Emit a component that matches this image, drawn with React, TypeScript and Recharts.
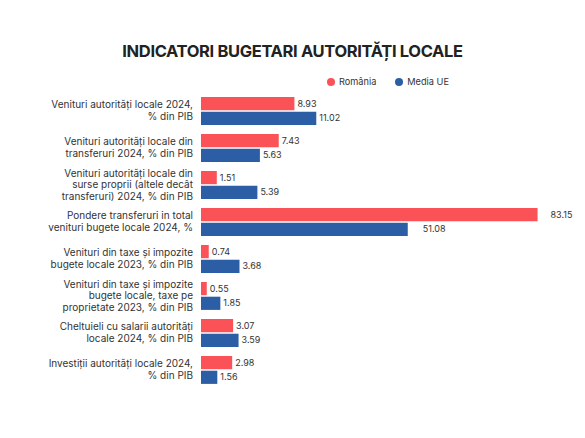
import React from "react";
import {
  BarChart,
  Bar,
  XAxis,
  YAxis,
  Legend,
  LabelList,
} from "recharts";

// Row labels (line breaks as in the original graphic)
const categories = [
  "Venituri autorități locale 2024,\n% din PIB",
  "Venituri autorități locale din\ntransferuri 2024, % din PIB",
  "Venituri autorități locale din\nsurse proprii (altele decât\ntransferuri) 2024, % din PIB",
  "Pondere transferuri in total\nvenituri bugete locale 2024, %",
  "Venituri din taxe și impozite\nbugete locale 2023, % din PIB",
  "Venituri din taxe și impozite\nbugete locale, taxe pe\nproprietate 2023, % din PIB",
  "Cheltuieli cu salarii autorități\nlocale 2024, % din PIB",
  "Investiții autorități locale 2024,\n% din PIB",
];

const romania = [8.93, 7.43, 1.51, 83.15, 0.74, 0.55, 3.07, 2.98];
const mediaUE = [11.02, 5.63, 5.39, 51.08, 3.68, 1.85, 3.59, 1.56];

// "pib" rows share one scale, the "%" share row uses its own
const units = ["pib", "pib", "pib", "pct", "pib", "pib", "pib", "pib"];

const seriesNames = ["România", "Media UE"];
const RED = "#fb5258";
const BLUE = "#2b5ea5";
const FONT = "Inter, 'Noto Sans', sans-serif";

const rows = categories.map((name, i) => ({
  name,
  ro_pib: units[i] === "pib" ? romania[i] : null,
  ue_pib: units[i] === "pib" ? mediaUE[i] : null,
  ro_pct: units[i] === "pct" ? romania[i] : null,
  ue_pct: units[i] === "pct" ? mediaUE[i] : null,
}));

function CategoryTick(props: any) {
  const { x, y, payload } = props;
  const lines = String(payload.value).split("\n");
  const lh = 11.4;
  return (
    <text
      x={x}
      y={y}
      textAnchor="end"
      fontSize={10}
      fill="#333"
      fontFamily={FONT}
    >
      {lines.map((l, i) => (
        <tspan
          key={i}
          x={x}
          dy={i === 0 ? -((lines.length - 1) * lh) / 2 + 3.6 : lh}
        >
          {l}
        </tspan>
      ))}
    </text>
  );
}

const fmt = (v: any) => (v == null ? "" : Number(v).toFixed(2));

function LegendContent() {
  const colors = [RED, BLUE];
  return (
    <div style={{ display: "flex", gap: 19, fontFamily: FONT, fontSize: 9.2, color: "#333" }}>
      {seriesNames.map((n, i) => (
        <div key={n} style={{ display: "flex", alignItems: "center", gap: 4 }}>
          <span
            style={{
              width: 8,
              height: 8,
              borderRadius: 4,
              background: colors[i],
              display: "inline-block",
            }}
          />
          {n}
        </div>
      ))}
    </div>
  );
}

const labelStyle = { fontSize: 9, fill: "#333", fontFamily: FONT };

export default function App() {
  return (
    <div
      style={{
        position: "absolute",
        left: 0,
        top: 0,
        width: 585,
        height: 438,
        background: "#fff",
      }}
    >
      <div
        style={{
          position: "absolute",
          top: 41,
          left: 0,
          width: 585,
          textAlign: "center",
          fontFamily: FONT,
          fontWeight: 700,
          fontSize: 16.5,
          color: "#222",
          letterSpacing: -0.35,
        }}
      >
        INDICATORI BUGETARI AUTORITĂȚI LOCALE
      </div>
      <BarChart
        width={585}
        height={438}
        data={rows}
        layout="vertical"
        margin={{ top: 92, right: 44, bottom: 50, left: 0 }}
        barSize={13.2}
        barGap={1.5}
      >
        <XAxis xAxisId="pib" type="number" domain={[0, 32.5]} hide />
        <XAxis xAxisId="pct" type="number" domain={[0, 84]} hide />
        <YAxis
          yAxisId="main"
          type="category"
          dataKey="name"
          width={201}
          axisLine={false}
          tickLine={false}
          interval={0}
          tick={<CategoryTick />}
        />
        <YAxis
          yAxisId="alt"
          type="category"
          dataKey="name"
          orientation="right"
          width={0}
          hide
        />
        <Legend
          verticalAlign="middle"
          content={<LegendContent />}
          wrapperStyle={{ position: "absolute", top: 76, left: 327, width: "auto" }}
        />
        <Bar
          xAxisId="pib"
          yAxisId="main"
          dataKey="ro_pib"
          name={seriesNames[0]}
          fill={RED}
          isAnimationActive={false}
        >
          <LabelList dataKey="ro_pib" position="right" offset={3} formatter={fmt} style={labelStyle} />
        </Bar>
        <Bar
          xAxisId="pib"
          yAxisId="main"
          dataKey="ue_pib"
          name={seriesNames[1]}
          fill={BLUE}
          isAnimationActive={false}
        >
          <LabelList dataKey="ue_pib" position="right" offset={3} formatter={fmt} style={labelStyle} />
        </Bar>
        <Bar
          xAxisId="pct"
          yAxisId="alt"
          dataKey="ro_pct"
          fill={RED}
          legendType="none"
          isAnimationActive={false}
        >
          <LabelList dataKey="ro_pct" position="right" offset={13} formatter={fmt} style={labelStyle} />
        </Bar>
        <Bar
          xAxisId="pct"
          yAxisId="alt"
          dataKey="ue_pct"
          fill={BLUE}
          legendType="none"
          isAnimationActive={false}
        >
          <LabelList dataKey="ue_pct" position="right" offset={15} formatter={fmt} style={labelStyle} />
        </Bar>
      </BarChart>
    </div>
  );
}
